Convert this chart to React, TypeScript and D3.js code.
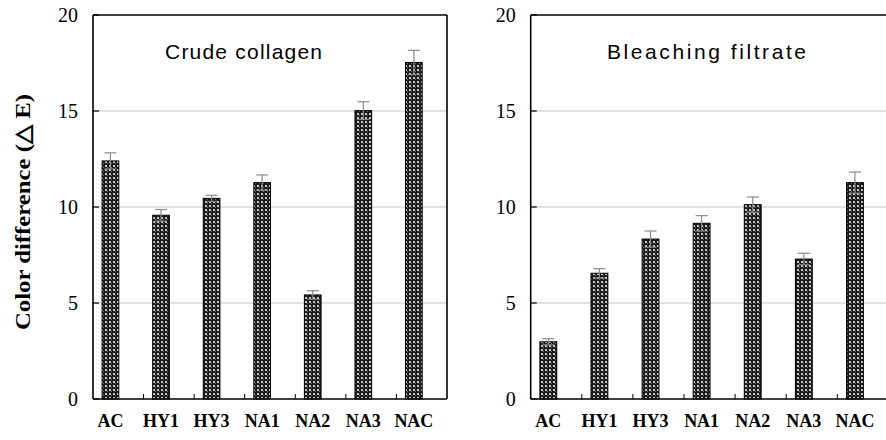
import React from "react";
import * as d3 from "d3";

const categories = ["AC", "HY1", "HY3", "NA1", "NA2", "NA3", "NAC"];
const crudeValues = [12.4, 9.57, 10.45, 11.27, 5.42, 15.02, 17.53];
const crudeErrors = [0.42, 0.3, 0.16, 0.4, 0.22, 0.46, 0.63];
const bleachValues = [2.98, 6.55, 8.33, 9.15, 10.12, 7.29, 11.27];
const bleachErrors = [0.16, 0.24, 0.42, 0.4, 0.4, 0.3, 0.55];
const yTicks = [0, 5, 10, 15, 20];
const gridTicks = [5, 10, 15];
const titles = ["Crude collagen", "Bleaching filtrate"];
const yTitle = "Color difference (\u25B3 E)";

const W = 886;
const H = 440;
const top = 15;
const bottom = 399;

type PanelProps = {
  x0: number;
  x1: number;
  values: number[];
  errors: number[];
  title: string;
  titleX: number;
  titleLen: number;
  rightBorder: boolean;
};

function Panel({ x0, x1, values, errors, title, titleX, titleLen, rightBorder }: PanelProps) {
  const y = d3.scaleLinear().domain([0, 20]).range([bottom, top]);
  const x = d3.scaleBand<string>().domain(categories).range([x0, x1]).paddingInner(0).paddingOuter(0);
  const bw = x.bandwidth();
  const barOff = 0.18 * bw;
  const barW = 0.33 * bw;
  return (
    <g>
      {gridTicks.map((t) => (
        <line key={"g" + t} x1={x0} x2={x1} y1={y(t)} y2={y(t)} stroke="#c4c4c4" strokeWidth={1.2} />
      ))}
      {categories.map((c, i) => {
        const bx = (x(c) as number) + barOff;
        const v = values[i];
        const e = errors[i];
        const cx = bx + barW / 2;
        return (
          <g key={c}>
            <rect x={bx} y={y(v)} width={barW} height={y(0) - y(v)} fill="url(#dots)" stroke="#000" strokeWidth={1} />
            <line x1={cx} x2={cx} y1={y(v + e)} y2={y(v - e)} stroke="#8a8a8a" strokeWidth={1.2} />
            <line x1={cx - 6} x2={cx + 6} y1={y(v + e)} y2={y(v + e)} stroke="#8a8a8a" strokeWidth={1.2} />
            <line x1={cx - 6} x2={cx + 6} y1={y(v - e)} y2={y(v - e)} stroke="#8a8a8a" strokeWidth={1.2} />
            <text
              x={cx}
              y={427}
              textAnchor="middle"
              fontFamily="'Liberation Serif', 'Times New Roman', serif"
              fontWeight="bold"
              fontSize={18}
            >
              {c}
            </text>
          </g>
        );
      })}
      {categories.slice(1).map((c) => (
        <line key={"xt" + c} x1={x(c) as number} x2={x(c) as number} y1={bottom} y2={bottom - 5} stroke="#000" strokeWidth={1} />
      ))}
      {yTicks.map((t) => (
        <g key={"yt" + t}>
          <line x1={x0} x2={x0 + 6} y1={y(t)} y2={y(t)} stroke="#000" strokeWidth={1.2} />
          <text
            x={x0 - 15}
            y={y(t)}
            dy="0.35em"
            textAnchor="end"
            fontFamily="'Liberation Serif', 'Times New Roman', serif"
            fontSize={20}
          >
            {t}
          </text>
        </g>
      ))}
      <line x1={x0} x2={x0} y1={top} y2={bottom} stroke="#000" strokeWidth={1.6} />
      <line x1={x0} x2={x1} y1={bottom} y2={bottom} stroke="#000" strokeWidth={1.6} />
      <line x1={x0} x2={x1} y1={top} y2={top} stroke="#000" strokeWidth={1.6} />
      {rightBorder && <line x1={x1} x2={x1} y1={top} y2={bottom} stroke="#000" strokeWidth={1.6} />}
      <text
        x={titleX}
        y={59}
        fontFamily="'Liberation Sans', Arial, sans-serif"
        fontSize={21}
        textLength={titleLen}
        lengthAdjust="spacing"
      >
        {title}
      </text>
    </g>
  );
}

export default function App() {
  return (
    <svg width={W} height={H} style={{ position: "absolute", left: 0, top: 0, background: "#fff" }}>
      <defs>
        <pattern id="dots" width={4} height={4} patternUnits="userSpaceOnUse">
          <rect width={4} height={4} fill="#1a1a1a" />
          <rect x={1} y={1} width={2} height={2} fill="#c8c8c8" />
          <rect x={3} y={3} width={1} height={1} fill="#707070" />
        </pattern>
      </defs>
      <rect width={W} height={H} fill="#fff" />
      <Panel x0={93} x1={447} values={crudeValues} errors={crudeErrors} title={titles[0]} titleX={165} titleLen={157} rightBorder={true} />
      <Panel x0={530.7} x1={888.4} values={bleachValues} errors={bleachErrors} title={titles[1]} titleX={607} titleLen={199} rightBorder={false} />
      <text
        transform={`translate(30, 212) rotate(-90)`}
        textAnchor="middle"
        fontFamily="'Liberation Serif', 'Times New Roman', serif"
        fontWeight="bold"
        fontSize={22}
        textLength={236}
        lengthAdjust="spacingAndGlyphs"
      >
        {yTitle}
      </text>
    </svg>
  );
}
